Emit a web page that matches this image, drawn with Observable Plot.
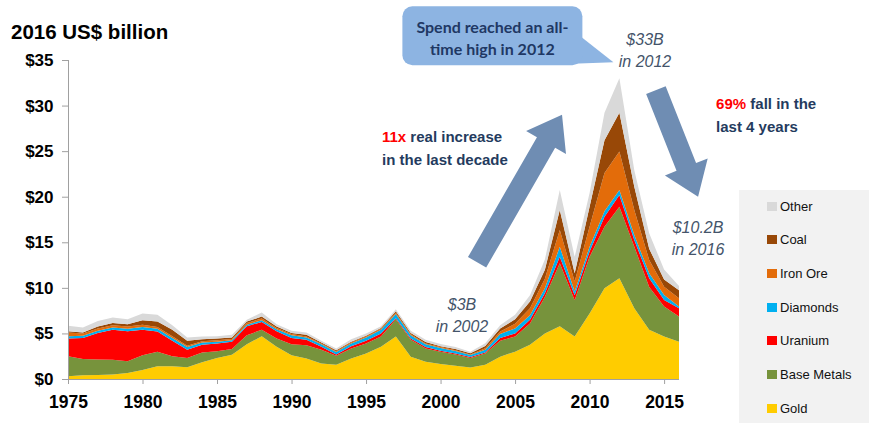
<!DOCTYPE html>
<html>
<head>
<meta charset="utf-8">
<script src="https://cdn.jsdelivr.net/npm/d3@7"></script>
<script src="https://cdn.jsdelivr.net/npm/@observablehq/plot@0.6"></script>
<style>
  html, body { margin: 0; padding: 0; background: #fff; }
  #wrap { position: relative; width: 869px; height: 423px; overflow: hidden;
          font-family: "Liberation Sans", Arial, sans-serif; }
  #legend { position: absolute; left: 739px; top: 190px; width: 130px; height: 233px; background: #F2F2F2; }
  .item { position: absolute; left: 28px; height: 16px; display: flex; align-items: center;
          font-size: 13px; color: #111; white-space: nowrap; }
  .sw { width: 10px; height: 9px; margin-right: 3px; }
</style>
</head>
<body>
<div id="wrap"><div id="legend"></div></div>
<script>
// Exploration spend by commodity, 2016 US$ billion
const years = [1975, 1976, 1977, 1978, 1979, 1980, 1981, 1982, 1983, 1984,
               1985, 1986, 1987, 1988, 1989, 1990, 1991, 1992, 1993, 1994,
               1995, 1996, 1997, 1998, 1999, 2000, 2001, 2002, 2003, 2004,
               2005, 2006, 2007, 2008, 2009, 2010, 2011, 2012, 2013, 2014,
               2015, 2016];

const gold       = [0.3, 0.4, 0.45, 0.5, 0.65, 1.0, 1.4, 1.4, 1.3, 1.85,
                    2.3, 2.65, 3.8, 4.7, 3.55, 2.6, 2.25, 1.7, 1.55, 2.25,
                    2.8, 3.55, 4.65, 2.45, 1.9, 1.65, 1.45, 1.25, 1.55, 2.45,
                    3.0, 3.75, 5.0, 5.8, 4.65, 7.2, 9.95, 11.05, 7.76, 5.4,
                    4.65, 4.1];
const baseMetals = [2.2, 1.8, 1.7, 1.6, 1.3, 1.6, 1.6, 1.1, 1.0, 1.05,
                    0.75, 0.65, 1.0, 0.7, 0.9, 1.2, 1.45, 1.5, 1.0, 1.1,
                    1.1, 1.1, 1.9, 1.85, 1.45, 1.35, 1.25, 1.05, 1.25, 1.75,
                    1.65, 2.35, 4.0, 6.9, 4.0, 6.2, 6.75, 7.85, 6.74, 4.7,
                    3.3, 2.75];
const uranium    = [1.95, 2.3, 2.9, 3.3, 3.3, 2.8, 2.2, 1.7, 0.9, 0.85,
                    0.85, 0.8, 1.0, 0.85, 0.8, 0.7, 0.6, 0.35, 0.15, 0.25,
                    0.3, 0.35, 0.12, 0.15, 0.15, 0.1, 0.1, 0.12, 0.12, 0.3,
                    0.35, 0.4, 0.4, 0.7, 0.55, 0.6, 1.1, 1.3, 0.76, 0.95,
                    0.73, 0.9];
const diamonds   = [0.25, 0.25, 0.25, 0.25, 0.25, 0.3, 0.3, 0.3, 0.3, 0.25,
                    0.2, 0.15, 0.15, 0.2, 0.2, 0.3, 0.25, 0.25, 0.25, 0.3,
                    0.35, 0.4, 0.45, 0.35, 0.3, 0.3, 0.27, 0.2, 0.3, 0.45,
                    0.55, 0.5, 0.55, 1.1, 0.4, 0.5, 0.6, 0.55, 0.54, 0.55,
                    0.53, 0.2];
const ironOre    = [0.4, 0.25, 0.25, 0.25, 0.25, 0.25, 0.2, 0.2, 0.15, 0.15,
                    0.15, 0.15, 0.2, 0.2, 0.15, 0.15, 0.1, 0.1, 0.1, 0.1,
                    0.1, 0.1, 0.15, 0.1, 0.1, 0.1, 0.08, 0.08, 0.15, 0.25,
                    0.5, 0.75, 1.05, 1.85, 1.1, 2.2, 4.2, 4.2, 2.75, 1.45,
                    0.9, 0.9];
const coal       = [0.15, 0.1, 0.2, 0.25, 0.25, 0.5, 0.6, 0.7, 0.55, 0.2,
                    0.2, 0.15, 0.15, 0.2, 0.15, 0.1, 0.2, 0.1, 0.1, 0.1,
                    0.1, 0.1, 0.17, 0.15, 0.15, 0.1, 0.15, 0.12, 0.25, 0.35,
                    0.5, 0.75, 1.0, 2.2, 0.9, 2.2, 3.6, 4.25, 2.55, 1.25,
                    0.8, 0.9];
const other      = [0.6, 0.55, 0.6, 0.6, 0.55, 0.75, 0.75, 0.5, 0.35, 0.3,
                    0.25, 0.3, 0.2, 0.45, 0.25, 0.25, 0.25, 0.2, 0.2, 0.25,
                    0.25, 0.2, 0.2, 0.25, 0.25, 0.25, 0.2, 0.18, 0.3, 0.35,
                    0.5, 0.7, 1.1, 2.2, 1.8, 1.5, 3.0, 3.8, 1.8, 1.7,
                    1.1, 0.45];

// Stack order, bottom to top
const seriesNames  = ["Gold", "Base Metals", "Uranium", "Diamonds", "Iron Ore", "Coal", "Other"];
const seriesValues = [gold, baseMetals, uranium, diamonds, ironOre, coal, other];
const seriesColors = ["#FFCC00", "#77933C", "#FF0000", "#00B0F0", "#E36C0A", "#984807", "#D9D9D9"];

const yTicks = [0, 5, 10, 15, 20, 25, 30, 35];
const xTicks = [1975, 1980, 1985, 1990, 1995, 2000, 2005, 2010, 2015];

const rows = [];
seriesNames.forEach((name, i) => {
  years.forEach((yr, j) => rows.push({year: yr, series: name, value: seriesValues[i][j]}));
});

const axisGrey = "#A0A0A0";

const plot = Plot.plot({
  width: 869,
  height: 423,
  marginLeft: 68,
  marginRight: 190,
  marginTop: 60,
  marginBottom: 44,
  style: {fontFamily: "'Liberation Sans', Arial, sans-serif", background: "transparent", overflow: "visible"},
  x: {domain: [1975, 2016]},
  y: {domain: [0, 35]},
  color: {domain: seriesNames, range: seriesColors},
  marks: [
    Plot.areaY(rows, Plot.stackY({x: "year", y: "value", z: "series", fill: "series", order: seriesNames})),
    Plot.ruleX([1975], {stroke: axisGrey}),
    Plot.ruleY([0], {stroke: axisGrey}),
    Plot.axisY({ticks: yTicks, tickSize: 6, tickPadding: 9, tickFormat: d => "$" + d,
                stroke: axisGrey, fill: "#000", fontSize: 17, fontWeight: "bold", label: null}),
    Plot.axisX({ticks: xTicks, tickSize: 5, tickPadding: 11, tickFormat: d => String(d),
                stroke: axisGrey, fill: "#000", fontSize: 17.5, fontWeight: "bold", label: null})
  ]
});

document.getElementById("wrap").prepend(plot);

// Annotation layer, placed with the chart's own scales
const px = v => plot.scale("x").apply(v);
const py = v => plot.scale("y").apply(v);
const svg = d3.select(plot);
const g = svg.append("g").attr("text-anchor", "start");

// Unit title
g.append("text").attr("x", 11).attr("y", 39).attr("text-anchor", "start")
  .attr("font-size", 20.5).attr("font-weight", "bold").attr("fill", "#000")
  .text("2016 US$ billion");

// Block arrow between two data-space points
function blockArrow(from, to, bodyW, headW, headL, fill) {
  const x0 = px(from[0]), y0 = py(from[1]), x1 = px(to[0]), y1 = py(to[1]);
  const dx = x1 - x0, dy = y1 - y0, L = Math.hypot(dx, dy);
  const ux = dx / L, uy = dy / L, nx = -uy, ny = ux;
  const bx = x1 - ux * headL, by = y1 - uy * headL;
  const pts = [
    [x0 + nx * bodyW / 2, y0 + ny * bodyW / 2],
    [bx + nx * bodyW / 2, by + ny * bodyW / 2],
    [bx + nx * headW / 2, by + ny * headW / 2],
    [x1, y1],
    [bx - nx * headW / 2, by - ny * headW / 2],
    [bx - nx * bodyW / 2, by - ny * bodyW / 2],
    [x0 - nx * bodyW / 2, y0 - ny * bodyW / 2]
  ];
  g.append("polygon").attr("points", pts.map(p => p.join(",")).join(" ")).attr("fill", fill);
}
const arrowBlue = "#6F8DB3";
blockArrow([2002.45, 12.8], [2008.15, 29.0], 21, 46, 32, arrowBlue);
blockArrow([2014.45, 31.7], [2017.28, 20.0], 21, 46, 32, arrowBlue);

// Callout box next to the 2012 peak
const peakX = px(2012), peakY = py(33);
const bx0 = peakX - 217, bx1 = peakX - 37, by0 = peakY - 72, by1 = peakY - 13;
g.append("path")
  .attr("d", `M${bx1 - 2},${by0 + 30} L${peakX - 6},${peakY - 16} L${bx1 - 24},${by1 - 1} Z`)
  .attr("fill", "#8DB4E2");
g.append("rect").attr("x", bx0).attr("y", by0).attr("width", bx1 - bx0).attr("height", by1 - by0)
  .attr("rx", 10).attr("fill", "#8DB4E2");
const callout = g.append("text").attr("text-anchor", "middle").attr("fill", "#1F3864")
  .attr("font-family", "Lato, 'Open Sans', sans-serif").attr("font-weight", "bold").attr("font-size", 16);
callout.append("tspan").attr("x", (bx0 + bx1) / 2).attr("y", by0 + 27).text("Spend reached an all-");
callout.append("tspan").attr("x", (bx0 + bx1) / 2).attr("y", by0 + 49).text("time high in 2012");

// Italic value notes
function note(x, yTop, lines) {
  const t = g.append("text").attr("text-anchor", "middle").attr("fill", "#44546A")
    .attr("font-style", "italic").attr("font-size", 16);
  lines.forEach((s, i) => t.append("tspan").attr("x", px(x)).attr("y", py(yTop) + i * 22).text(s));
}
note(2013.72, 36.6, ["$33B", "in 2012"]);
note(2001.44, 7.6, ["$3B", "in 2002"]);
note(2017.28, 16.0, ["$10.2B", "in 2016"]);

// Bold commentary with a red lead figure
function comment(x, yTop, lead, rest, line2) {
  const t = g.append("text").attr("text-anchor", "start").attr("fill", "#243B5E")
    .attr("font-weight", "bold").attr("font-size", 15);
  t.append("tspan").attr("x", px(x)).attr("y", py(yTop)).attr("fill", "#FF0000").text(lead);
  t.append("tspan").text(rest);
  t.append("tspan").attr("x", px(x)).attr("y", py(yTop) + 23).text(line2);
}
comment(1996.07, 26.0, "11x", " real increase", "in the last decade");
comment(2018.49, 29.6, "69%", " fall in the", "last 4 years");

// Legend, top to bottom
const legend = d3.select("#legend");
seriesNames.slice().reverse().forEach((name, i) => {
  const color = seriesColors[seriesNames.indexOf(name)];
  const item = legend.append("div").attr("class", "item").style("top", (8 + i * 33.7) + "px");
  item.append("div").attr("class", "sw").style("background", color);
  item.append("span").text(name);
});
</script>
</body>
</html>
